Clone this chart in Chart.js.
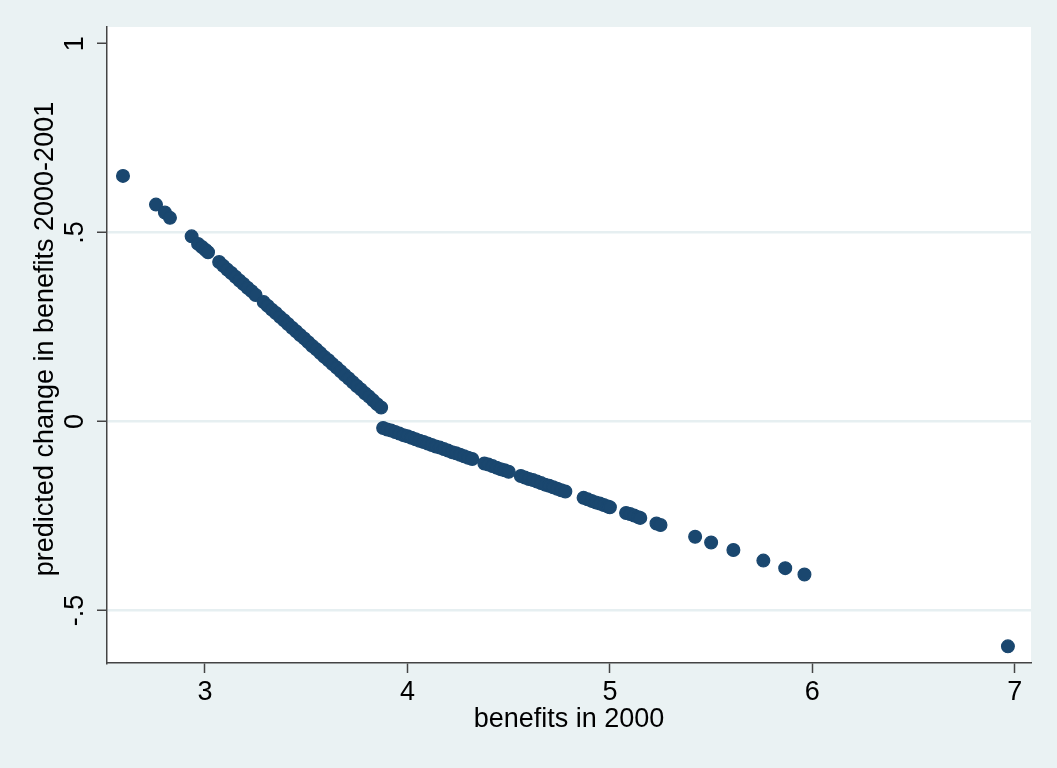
<!DOCTYPE html>
<html>
<head>
<meta charset="utf-8">
<script src="https://cdn.jsdelivr.net/npm/chart.js@4/dist/chart.umd.min.js"></script>
<style>
  html, body { margin: 0; padding: 0; background: #eaf2f3; }
  canvas { display: block; }
</style>
</head>
<body>
<canvas id="c" width="1057" height="768"></canvas>
<script>
// Benefits in 2000 (x) and predicted change 2000-2001 (y)
const benefits2000 = [
  2.595, 2.758, 2.802, 2.827, 2.934,
  2.966, 2.985, 3.003, 3.015,
  3.07, 3.09, 3.11, 3.13, 3.15, 3.17, 3.19, 3.21, 3.23, 3.25,
  3.29, 3.31, 3.33, 3.35, 3.37, 3.39, 3.41, 3.43, 3.45, 3.47,
  3.49, 3.51, 3.53, 3.55, 3.57, 3.59, 3.61, 3.63, 3.65, 3.67,
  3.69, 3.71, 3.73, 3.75, 3.77, 3.79, 3.81, 3.83, 3.85, 3.87,
  3.88, 3.90, 3.92, 3.94, 3.96, 3.98, 4.00, 4.02, 4.04, 4.06, 4.08,
  4.10, 4.12, 4.14, 4.16, 4.18, 4.20, 4.22, 4.24, 4.26, 4.28, 4.30, 4.32,
  4.38, 4.40, 4.42, 4.44, 4.46, 4.48, 4.50,
  4.56, 4.58, 4.60, 4.62, 4.64, 4.66, 4.68, 4.70, 4.72, 4.74, 4.76, 4.78,
  4.87, 4.89, 4.91, 4.93, 4.95, 4.97, 4.99, 5.00,
  5.08, 5.10, 5.12, 5.14, 5.15,
  5.23, 5.25,
  5.421, 5.500, 5.610, 5.758, 5.866, 5.961,
  6.966
];
const predictedChange = [
  0.650, 0.574, 0.553, 0.539, 0.490,
  0.470, 0.462, 0.454, 0.448,
  0.422, 0.412, 0.402, 0.393, 0.383, 0.373, 0.364, 0.354, 0.345, 0.335,
  0.316, 0.306, 0.296, 0.287, 0.277, 0.268, 0.258, 0.248, 0.239, 0.229,
  0.220, 0.210, 0.200, 0.191, 0.181, 0.171, 0.162, 0.152, 0.143, 0.133,
  0.123, 0.114, 0.104, 0.094, 0.085, 0.075, 0.066, 0.056, 0.046, 0.037,
  -0.017, -0.021, -0.024, -0.028, -0.032, -0.036, -0.039, -0.043, -0.047, -0.051, -0.054,
  -0.058, -0.062, -0.066, -0.069, -0.073, -0.077, -0.081, -0.084, -0.088, -0.092, -0.096, -0.099,
  -0.111, -0.114, -0.118, -0.122, -0.126, -0.129, -0.133,
  -0.144, -0.148, -0.152, -0.155, -0.159, -0.163, -0.167, -0.170, -0.174, -0.178, -0.182, -0.185,
  -0.202, -0.206, -0.210, -0.214, -0.217, -0.221, -0.225, -0.227,
  -0.242, -0.245, -0.249, -0.253, -0.255,
  -0.270, -0.274,
  -0.305, -0.320, -0.340, -0.368, -0.388, -0.405,
  -0.595
];

const xTickValues = [3, 4, 5, 6, 7];
const xTickLabels = ['3', '4', '5', '6', '7'];
const yTickValues = [-0.5, 0, 0.5, 1];
const yTickLabels = ['-.5', '0', '.5', '1'];
const xTitle = 'benefits in 2000';
const yTitle = 'predicted change in benefits 2000-2001';

const FONT = '27px "Liberation Sans", Arial, Helvetica, sans-serif';
const PAGE_BG = '#eaf2f3';
const MARKER = '#1a476f';

// Outer page tint and white plot region
const backgroundPlugin = {
  id: 'backgrounds',
  beforeDraw(chart) {
    const { ctx, chartArea: a } = chart;
    ctx.save();
    ctx.fillStyle = PAGE_BG;
    ctx.fillRect(0, 0, chart.width, chart.height);
    ctx.fillStyle = '#ffffff';
    ctx.fillRect(a.left, a.top, a.right - a.left, a.bottom - a.top);
    ctx.restore();
  }
};

// Tick labels (vertical on the y axis) and axis titles
const labelPlugin = {
  id: 'axisText',
  afterDraw(chart) {
    const { ctx, chartArea: a } = chart;
    const xs = chart.scales.x, ys = chart.scales.y;
    ctx.save();
    ctx.font = FONT;
    ctx.fillStyle = '#000000';
    ctx.textAlign = 'center';
    ctx.textBaseline = 'middle';
    xTickValues.forEach((v, i) => {
      ctx.fillText(xTickLabels[i], xs.getPixelForValue(v), 693);
    });
    yTickValues.forEach((v, i) => {
      ctx.save();
      ctx.translate(76, ys.getPixelForValue(v));
      ctx.rotate(-Math.PI / 2);
      ctx.fillText(yTickLabels[i], 0, 0);
      ctx.restore();
    });
    ctx.fillText(xTitle, (a.left + a.right) / 2, 720);
    ctx.save();
    ctx.translate(46, 339);
    ctx.rotate(-Math.PI / 2);
    ctx.fillText(yTitle, 0, 0);
    ctx.restore();
    ctx.restore();
  }
};

new Chart(document.getElementById('c'), {
  type: 'scatter',
  data: {
    datasets: [{
      data: benefits2000.map((x, i) => ({ x: x, y: predictedChange[i] })),
      backgroundColor: MARKER,
      borderColor: MARKER,
      borderWidth: 1.2,
      pointRadius: 6.4,
      pointHoverRadius: 6.4
    }]
  },
  options: {
    responsive: false,
    animation: false,
    events: [],
    layout: { padding: { left: 0, right: 26, top: 27, bottom: 0 } },
    plugins: { legend: { display: false }, tooltip: { enabled: false } },
    scales: {
      x: {
        type: 'linear',
        min: 2.516,
        max: 7.08,
        afterBuildTicks: s => { s.ticks = xTickValues.map(v => ({ value: v })); },
        afterFit: s => { s.height = 105; },
        ticks: { display: false },
        grid: {
          drawOnChartArea: false,
          drawTicks: true,
          tickLength: 10,
          tickColor: '#444444',
          tickWidth: 1.5
        },
        border: { display: true, color: '#444444', width: 1.5 }
      },
      y: {
        type: 'linear',
        min: -0.639,
        max: 1.044,
        afterBuildTicks: s => { s.ticks = yTickValues.map(v => ({ value: v })); },
        afterFit: s => { s.width = 107; },
        ticks: { display: false },
        grid: {
          color: c => (c.tick && c.tick.value === 1) ? 'rgba(0,0,0,0)' : '#e6eff1',
          lineWidth: 2.5,
          drawTicks: true,
          tickLength: 10,
          tickColor: '#444444',
          tickWidth: 1.5
        },
        border: { display: true, color: '#444444', width: 1.5 }
      }
    }
  },
  plugins: [backgroundPlugin, labelPlugin]
});
</script>
</body>
</html>
